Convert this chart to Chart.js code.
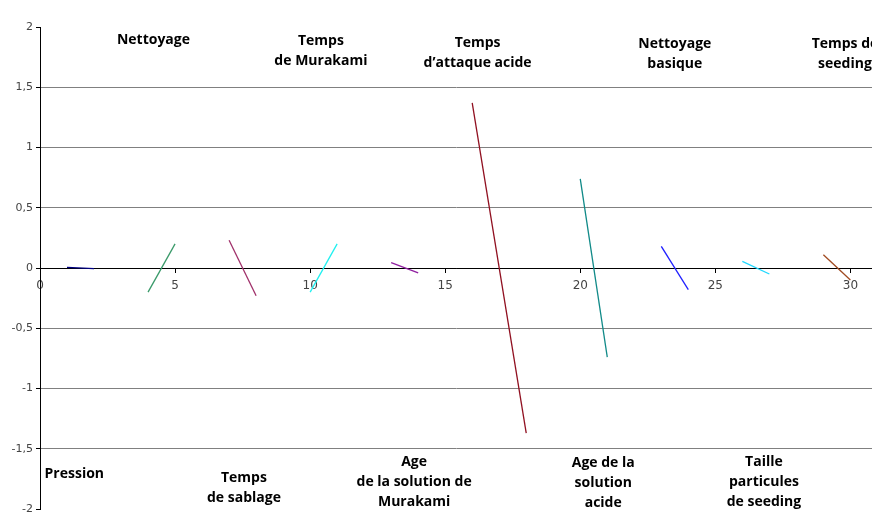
<!DOCTYPE html>
<html>
<head>
<meta charset="utf-8">
<script src="https://cdn.jsdelivr.net/npm/chart.js@4"></script>
<style>
  html, body { margin: 0; padding: 0; background: #fff; }
  #wrap { width: 872px; height: 513px; }
</style>
</head>
<body>
<div id="wrap"><canvas id="chart"></canvas></div>
<script>
const factors = ["Pression", "Nettoyage", "Temps de sablage", "Temps de Murakami",
  "Age de la solution de Murakami", "Temps d'attaque acide", "Age de la solution acide",
  "Nettoyage basique", "Taille particules de seeding", "Temps de seeding"];
const lowX = [1, 4, 7, 10, 13, 16, 20, 23, 26, 29];
const highX = [2, 5, 8, 11, 14, 18, 21, 24, 27, 30];
const lowY = [0.005, -0.2, 0.23, -0.2, 0.045, 1.37, 0.74, 0.18, 0.055, 0.11];
const highY = [-0.005, 0.2, -0.23, 0.2, -0.04, -1.37, -0.74, -0.18, -0.05, -0.1];
const colors = ["#000080", "#3a9a6a", "#a0306a", "#20f0f0", "#9020a0",
  "#901020", "#108a88", "#2020ff", "#20d8ff", "#a04a20"];

// text labels: lines, centre x, first line y (data units)
const labelLines = [
  ["Pression"], ["Nettoyage"], ["Temps", "de sablage"], ["Temps", "de Murakami"],
  ["Age", "de la solution de", "Murakami"], ["Temps", "d\u2019attaque acide"],
  ["Age de la", "solution", "acide"], ["Nettoyage", "basique"],
  ["Taille", "particules", "de seeding"], ["Temps de", "seeding"]
];
const labelX = [1.27, 4.2, 7.55, 10.4, 13.85, 16.2, 20.85, 23.5, 26.8, 29.8];
const labelY = [-1.71, 1.89, -1.74, 1.88, -1.61, 1.87, -1.62, 1.86, -1.61, 1.86];

const yTicks = [-2, -1.5, -1, -0.5, 0, 0.5, 1, 1.5, 2];

const datasets = factors.map((f, i) => ({
  label: f,
  data: [{x: lowX[i], y: lowY[i]}, {x: highX[i], y: highY[i]}],
  showLine: true,
  borderColor: colors[i],
  backgroundColor: colors[i],
  borderWidth: 1.3,
  pointRadius: 0,
  tension: 0
}));

const labelPlugin = {
  id: 'factorLabels',
  afterDatasetsDraw(chart) {
    const {ctx, scales: {x, y}} = chart;
    ctx.save();
    ctx.font = "bold 14px 'Open Sans', sans-serif";
    ctx.fillStyle = "#000";
    ctx.textAlign = "center";
    ctx.textBaseline = "middle";
    labelLines.forEach((lines, i) => {
      const px = x.getPixelForValue(labelX[i]);
      const py = y.getPixelForValue(labelY[i]);
      lines.forEach((t, j) => ctx.fillText(t, px, py + j * 20));
    });
    ctx.restore();
  }
};

new Chart(document.getElementById('chart'), {
  type: 'scatter',
  data: { datasets },
  plugins: [labelPlugin],
  options: {
    responsive: true,
    maintainAspectRatio: false,
    animation: false,
    layout: { padding: { top: 27, bottom: 4, left: 0, right: 0 } },
    plugins: { legend: { display: false }, tooltip: { enabled: false } },
    scales: {
      x: {
        type: 'linear',
        position: { y: 0 },
        min: 0, max: 30.8,
        ticks: {
          stepSize: 5, includeBounds: false, padding: 7,
          color: "#444", font: { family: "DejaVu Sans", size: 12 }
        },
        grid: { drawOnChartArea: false, tickLength: 4, tickColor: "#000" },
        border: { color: "#000", width: 1 },
        afterFit(s) { s.paddingLeft = 0; s.paddingRight = 0; }
      },
      y: {
        min: -2, max: 2,
        afterBuildTicks(s) { s.ticks = yTicks.map(v => ({value: v})); },
        ticks: {
          padding: 3, color: "#444", font: { family: "DejaVu Sans", size: 11 },
          callback: v => String(v).replace('.', ',')
        },
        grid: {
          color: c => c.tick.value === 0 ? "#000" : (Math.abs(c.tick.value) === 2 ? "rgba(0,0,0,0)" : "#808080"),
          tickLength: 4, tickColor: "#000"
        },
        border: { color: "#000", width: 1 },
        afterFit(s) { s.width = 40; s.paddingTop = 0; s.paddingBottom = 0; }
      }
    }
  }
});
</script>
</body>
</html>
